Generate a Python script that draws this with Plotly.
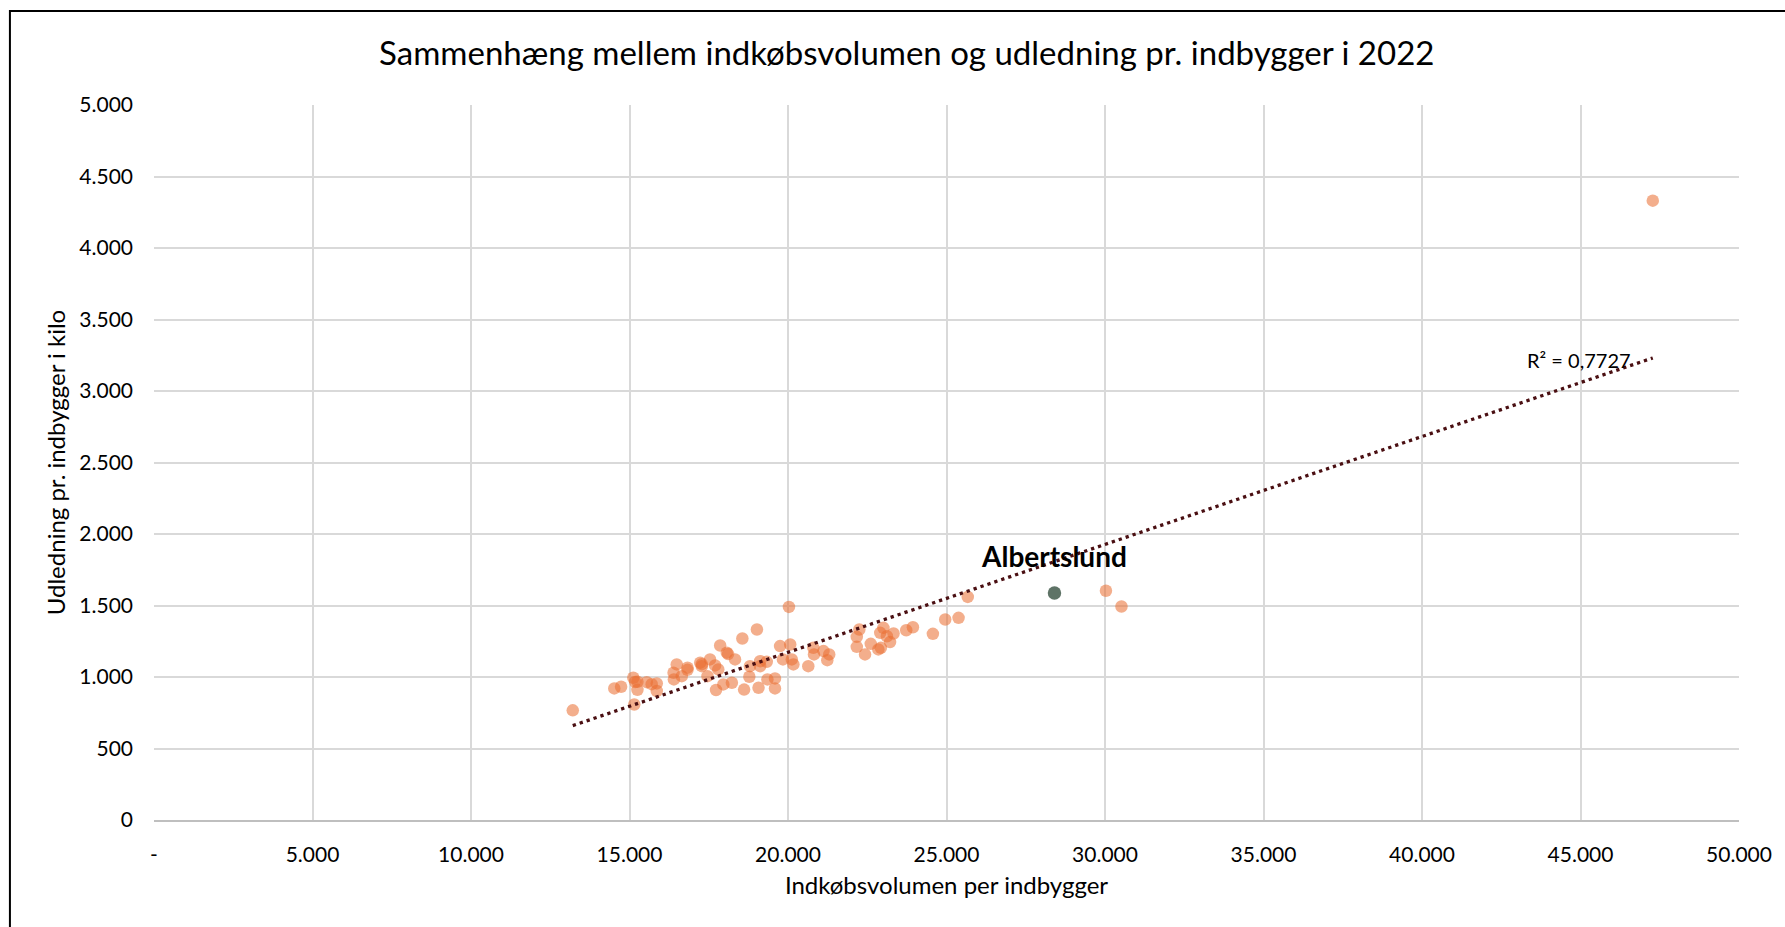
import numpy as np
import plotly.graph_objects as go

# ---------------- data ----------------
purchase_volume = [
    13210, 14520, 14735, 15120, 15180, 15250, 15250, 15150, 15545, 15860,
    15860, 15700, 16390, 16400, 16490, 16650, 16830, 16830, 17230, 17280,
    17280, 17460, 17540, 17700, 17730, 17800, 17860, 17960, 18070, 18110,
    18230, 18330, 18560, 18615, 18780, 18800, 19020, 19070, 19120, 19120,
    19330, 19350, 19590, 19590, 19750, 19840, 20030, 20070, 20120, 20170,
    20640, 20800, 20820, 21120, 21240, 21300, 22170, 22170, 22250, 22430,
    22610, 22850, 22930, 22910, 23010, 23120, 23220, 23330, 23730, 23940,
    24570, 24960, 25380, 25670, 30030, 30520, 47280,
]
emissions = [
    767, 920, 932, 995, 965, 967, 910, 808, 964, 955,
    902, 950, 1030, 983, 1088, 1006, 1065, 1050, 1100, 1076,
    1090, 1006, 1123, 1081, 909, 1053, 1220, 948, 1170, 1160,
    960, 1123, 1269, 912, 1002, 1076, 1332, 925, 1111, 1076,
    1106, 983, 990, 920, 1216, 1123, 1490, 1227, 1123, 1088,
    1076, 1204, 1158, 1181, 1118, 1158, 1281, 1211, 1332, 1158,
    1232, 1193, 1204, 1309, 1344, 1285, 1244, 1304, 1327, 1348,
    1302, 1402, 1414, 1560, 1603, 1493, 4331,
]
highlight_name = ["Albertslund"]
highlight_x = [28406]
highlight_y = [1587]

r2_label = "R² = 0,7727"
title_text = "Sammenhæng mellem indkøbsvolumen og udledning pr. indbygger i 2022"
x_title = "Indkøbsvolumen per indbygger"
y_title = "Udledning pr. indbygger i kilo"

x_tickvals = [0, 5000, 10000, 15000, 20000, 25000, 30000, 35000, 40000, 45000, 50000]
x_ticktext = ["-", "5.000", "10.000", "15.000", "20.000", "25.000", "30.000",
              "35.000", "40.000", "45.000", "50.000"]
y_tickvals = [0, 500, 1000, 1500, 2000, 2500, 3000, 3500, 4000, 4500, 5000]
y_ticktext = ["0", "500", "1.000", "1.500", "2.000", "2.500", "3.000",
              "3.500", "4.000", "4.500", "5.000"]

# ---------------- trendline (linear fit over all municipalities) ----------------
xs = np.array(purchase_volume + highlight_x, dtype=float)
ys = np.array(emissions + highlight_y, dtype=float)
slope, intercept = np.polyfit(xs, ys, 1)
trend_x = np.array([xs.min(), xs.max()])
trend_y = slope * trend_x + intercept

FONT = "Lato"

fig = go.Figure()
fig.add_trace(go.Scatter(
    x=purchase_volume, y=emissions, mode="markers",
    marker=dict(size=12.5, color="rgba(233,110,50,0.56)", line=dict(width=0)),
    hoverinfo="x+y", showlegend=False,
))
fig.add_trace(go.Scatter(
    x=trend_x, y=trend_y, mode="lines",
    line=dict(color="#4a0f12", width=3.3, dash="3.3px,4px"),
    hoverinfo="skip", showlegend=False,
))
fig.add_trace(go.Scatter(
    x=highlight_x, y=highlight_y, mode="markers",
    marker=dict(size=13.5, color="#5e7366", line=dict(width=0)),
    text=highlight_name, hoverinfo="text+x+y", showlegend=False,
))

fig.add_annotation(
    x=highlight_x[0], y=highlight_y[0], text="<b>" + highlight_name[0] + "</b>",
    showarrow=False, yshift=37, font=dict(family=FONT, size=28, color="#000000"),
)
fig.add_annotation(
    x=44950, y=3215, text=r2_label, showarrow=False,
    font=dict(family=FONT, size=20, color="#000000"),
)

# outer chart border
fig.add_shape(type="rect", xref="paper", yref="paper",
              x0=-0.0909, y0=-0.3, x1=1.2, y1=1.1315,
              line=dict(color="#000000", width=2), fillcolor="rgba(0,0,0,0)")

fig.update_layout(
    width=1785, height=927,
    margin=dict(l=154, r=46, t=105, b=107),
    paper_bgcolor="white", plot_bgcolor="white",
    font=dict(family=FONT, color="#000000"),
    title=dict(text=title_text, x=0.508, xref="container", xanchor="center",
               y=1 - 53 / 927, yref="container", yanchor="middle",
               font=dict(family=FONT, size=33, color="#000000")),
    showlegend=False,
)
fig.update_xaxes(
    range=[0, 50000], tickvals=x_tickvals, ticktext=x_ticktext,
    showgrid=True, gridcolor="#d9d9d9", gridwidth=1.5,
    zeroline=False, showline=True, linecolor="#bfbfbf", linewidth=1.5,
    ticks="", ticklabelstandoff=15, tickfont=dict(family=FONT, size=21, color="#000000"),
    title=dict(text=x_title, standoff=12, font=dict(family=FONT, size=24, color="#000000")),
)
fig.update_yaxes(
    range=[0, 5000], tickvals=y_tickvals, ticktext=y_ticktext,
    showgrid=True, gridcolor="#d9d9d9", gridwidth=1.5,
    zeroline=False, showline=False,
    ticks="", ticklabelstandoff=20, tickfont=dict(family=FONT, size=21, color="#000000"),
    title=dict(text=y_title, standoff=6, font=dict(family=FONT, size=24, color="#000000")),
)

fig.write_html("out.html", config={"displayModeBar": False},
               post_script="document.body.style.margin='0';document.body.style.overflow='hidden';")
